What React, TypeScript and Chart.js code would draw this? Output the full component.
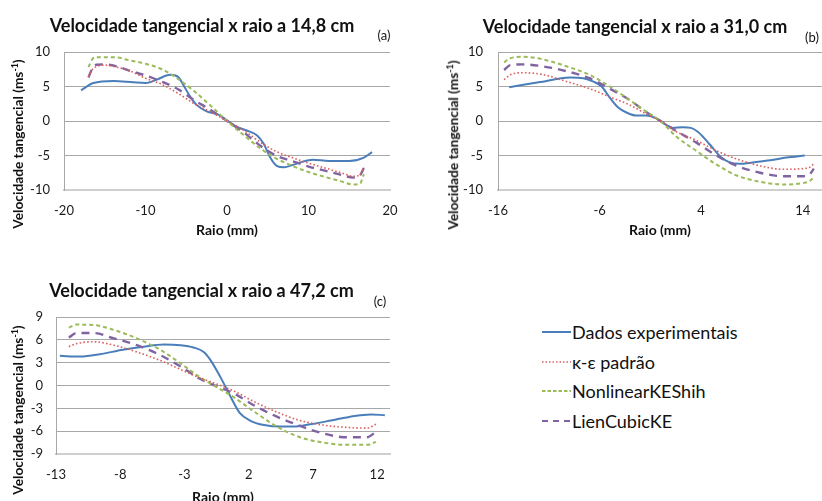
import React, { useEffect, useRef } from "react";
import { Chart, registerables } from "chart.js";
Chart.register(...registerables);

const FONT = "Lato, 'Open Sans', sans-serif";

// ---------- Panel (a) : 14,8 cm ----------
const aXTicks = [-20, -10, 0, 10, 20];
const aYTicks = [10, 5, 0, -5, -10];
const aExpX = [-17.9, -16.4, -13.9, -11.5, -10.0, -8.6, -7.0, -6.0, -5.2, -4.5, -3.7, -2.5, -1.0, 0, 1.3, 2.7, 3.7, 4.5, 5.3, 6.1, 7.0, 8.0, 9.0, 10.5, 12.5, 15.0, 16.8, 17.8];
const aExpY = [4.45, 5.5, 5.8, 5.6, 5.5, 6.0, 6.7, 6.4, 4.9, 3.5, 2.3, 1.4, 0.9, 0.1, -0.9, -1.5, -2.1, -3.3, -5.3, -6.5, -6.7, -6.4, -6.0, -5.6, -5.8, -5.8, -5.3, -4.5];
const aModelX = [-17, -16.5, -16, -15, -13.5, -12, -10, -8, -6, -4, -2, 0, 2, 4, 6, 8, 10, 12, 14, 15.5, 16.3, 16.8];
const aKeY = [6.4, 7.5, 7.9, 8.1, 7.8, 7.3, 6.2, 5.3, 4.0, 2.5, 1.3, 0, -1.3, -3.0, -4.4, -5.3, -6.1, -6.8, -7.5, -8.0, -7.8, -6.7];
const aShihY = [7.8, 9.0, 9.25, 9.25, 9.2, 8.8, 8.3, 7.5, 6.1, 4.3, 2.2, 0, -2.0, -3.9, -5.4, -6.5, -7.4, -8.1, -8.75, -9.2, -9.1, -7.7];
const aLienY = [6.3, 7.7, 8.15, 8.2, 7.9, 7.3, 6.6, 5.7, 4.6, 3.0, 1.6, 0, -1.6, -3.5, -5.0, -5.8, -6.6, -7.2, -7.8, -8.2, -7.9, -6.8];

// ---------- Panel (b) : 31,0 cm ----------
const bXTicks = [-16, -6, 4, 14];
const bYTicks = [10, 5, 0, -5, -10];
const bExpX = [-14.9, -12, -8.9, -7.6, -6.6, -5.8, -5.0, -4.2, -3.3, -2.4, -1.4, -0.6, 0, 0.6, 1.2, 2.2, 3.0, 3.7, 4.5, 5.2, 6.0, 6.8, 7.8, 9.1, 10.8, 12.4, 14.2];
const bExpY = [4.9, 5.6, 6.3, 6.2, 5.7, 5.0, 3.4, 2.0, 1.2, 0.8, 0.8, 0.5, 0, -0.6, -1.0, -0.9, -1.0, -1.6, -2.8, -4.0, -5.3, -6.0, -6.2, -6.0, -5.7, -5.3, -5.0];
const bModelX = [-15.4, -14.8, -13.5, -11.5, -9.2, -7.0, -5.0, -3.0, -1.5, 0, 1.5, 3.5, 5.5, 7.5, 9.8, 12.1, 14.0, 14.7, 15.1];
const bKeY = [6.0, 6.7, 7.0, 6.7, 5.7, 4.7, 3.5, 2.3, 1.1, 0, -1.5, -2.8, -4.3, -5.5, -6.5, -7.0, -6.9, -6.7, -6.2];
const bShihY = [8.5, 9.1, 9.3, 8.9, 7.9, 6.7, 5.0, 3.0, 1.45, 0, -2.2, -4.3, -6.3, -7.9, -8.8, -9.2, -9.0, -8.7, -8.1];
const bLienY = [7.4, 8.1, 8.2, 7.9, 7.2, 6.2, 4.7, 3.0, 1.4, 0, -1.4, -3.1, -5.0, -6.5, -7.5, -8.0, -8.0, -7.7, -6.9];

// ---------- Panel (c) : 47,2 cm ----------
const cXTicks = [-13, -8, -3, 2, 7, 12];
const cYTicks = [9, 6, 3, 0, -3, -6, -9];
const cExpX = [-12.7, -11.1, -9.6, -7.8, -6.2, -4.6, -3.3, -2.3, -1.5, -1.0, -0.2, 0.6, 1.3, 2.1, 3.2, 4.5, 5.5, 6.8, 8.4, 9.9, 11.5, 12.6];
const cExpY = [3.9, 3.8, 4.1, 4.7, 5.1, 5.4, 5.3, 5.0, 4.4, 3.4, 1.1, -1.5, -3.6, -4.6, -5.2, -5.4, -5.4, -5.1, -4.6, -4.1, -3.8, -3.9];
const cModelX = [-12.0, -11.4, -10.1, -8.5, -6.7, -4.9, -3.3, -1.8, -0.5, 0.8, 2.4, 4.2, 6.0, 7.8, 9.6, 11.2, 11.9];
const cKeY = [5.1, 5.5, 5.75, 5.3, 4.4, 3.3, 2.1, 1.0, 0.2, -0.7, -2.1, -3.5, -4.6, -5.2, -5.5, -5.6, -5.1];
const cShihY = [7.6, 8.0, 7.95, 7.3, 6.2, 4.7, 2.9, 1.1, -0.2, -1.5, -3.4, -5.4, -6.8, -7.5, -7.8, -7.8, -7.4];
const cLienY = [6.3, 6.9, 6.9, 6.2, 5.3, 4.0, 2.5, 0.9, -0.1, -1.0, -2.6, -4.1, -5.3, -6.3, -6.8, -6.8, -6.1];

const seriesNames = ["Dados experimentais", "κ-ε padrão", "NonlinearKEShih", "LienCubicKE"];
const BLUE = "#4A7EBB";
const RED = "#D9605E";
const GREEN = "#9BBB59";
const PURPLE = "#8064A2";

const zip = (xs: number[], ys: number[]) => xs.map((x, i) => ({ x, y: ys[i] }));

type PanelProps = {
  left: number; top: number; width: number; height: number;
  pad: { top: number; right: number; left: number; bottom: number };
  yW: number; xH: number; yPad: number;
  xMin: number; xMax: number; xTicks: number[];
  yMin: number; yMax: number; yTicks: number[];
  exp: [number[], number[]]; modelX: number[]; ke: number[]; shih: number[]; lien: number[];
};

function Panel(p: PanelProps) {
  const ref = useRef<HTMLCanvasElement>(null);
  useEffect(() => {
    if (!ref.current) return;
    const common = { showLine: true, pointRadius: 0, fill: false, cubicInterpolationMode: "monotone" as const };
    const chart = new Chart(ref.current, {
      type: "scatter",
      data: {
        datasets: [
          { ...common, label: seriesNames[1], data: zip(p.modelX, p.ke), borderColor: RED, borderWidth: 1.6, borderDash: [1.6, 2.2] },
          { ...common, label: seriesNames[2], data: zip(p.modelX, p.shih), borderColor: GREEN, borderWidth: 2, borderDash: [4, 3] },
          { ...common, label: seriesNames[3], data: zip(p.modelX, p.lien), borderColor: PURPLE, borderWidth: 2.4, borderDash: [8, 6] },
          { ...common, label: seriesNames[0], data: zip(p.exp[0], p.exp[1]), borderColor: BLUE, borderWidth: 2 },
        ],
      },
      options: {
        animation: false,
        responsive: false,
        events: [],
        layout: { padding: p.pad },
        plugins: { legend: { display: false }, tooltip: { enabled: false }, title: { display: false } },
        scales: {
          x: {
            type: "linear",
            min: p.xMin,
            max: p.xMax,
            afterBuildTicks: (s: any) => { s.ticks = p.xTicks.map((v) => ({ value: v })); },
            afterFit: (s: any) => { s.height = p.xH; },
            grid: { display: false, drawTicks: false },
            border: { display: true, color: "#cfcfcf", width: 2 },
            ticks: { font: { family: FONT, size: 13 }, color: "#1a1a1a", padding: 13, maxRotation: 0, autoSkip: false },
          },
          y: {
            type: "linear",
            min: p.yMin,
            max: p.yMax,
            afterBuildTicks: (s: any) => { s.ticks = p.yTicks.map((v) => ({ value: v })); },
            afterFit: (s: any) => { s.width = p.yW; },
            grid: {
              drawTicks: false,
              color: (ctx: any) => (ctx.tick && ctx.tick.value === p.yMin ? "rgba(0,0,0,0)" : "#a8a8a8"),
            },
            border: { display: true, color: "#a8a8a8", width: 1 },
            ticks: { font: { family: FONT, size: 13 }, color: "#1a1a1a", padding: p.yPad },
          },
        },
      },
    } as any);
    return () => chart.destroy();
  }, []);
  return (
    <canvas
      ref={ref}
      width={p.width}
      height={p.height}
      style={{ position: "absolute", left: p.left, top: p.top, width: p.width, height: p.height }}
    />
  );
}

function Txt(props: { x: number; y: number; size: number; bold?: boolean; rotate?: boolean; children: any }) {
  return (
    <div
      style={{
        position: "absolute",
        left: props.x,
        top: props.y,
        transform: `translate(-50%, -50%)${props.rotate ? " rotate(-90deg)" : ""}`,
        fontFamily: FONT,
        fontSize: props.size,
        fontWeight: props.bold ? 700 : 400,
        color: "#111",
        whiteSpace: "nowrap",
        lineHeight: 1,
      }}
    >
      {props.children}
    </div>
  );
}

const YTitle = () => (
  <>
    Velocidade tangencial (ms<span style={{ fontSize: "0.65em", verticalAlign: "0.55em" }}>-1</span>)
  </>
);

function LegendRow(props: { y: number; color: string; dash: string; width: number; label: string }) {
  return (
    <>
      <svg style={{ position: "absolute", left: 542, top: props.y - 3 }} width={29} height={6}>
        <line x1={0} y1={3} x2={29} y2={3} stroke={props.color} strokeWidth={props.width} strokeDasharray={props.dash} />
      </svg>
      <div
        style={{
          position: "absolute",
          left: 572,
          top: props.y,
          transform: "translateY(-50%)",
          fontFamily: FONT,
          fontSize: 18,
          color: "#111",
          whiteSpace: "nowrap",
          lineHeight: 1,
        }}
      >
        {props.label}
      </div>
    </>
  );
}

export default function App() {
  return (
    <div style={{ position: "absolute", left: 0, top: 0, width: 822, height: 501, overflow: "hidden", background: "#fff" }}>
      <Panel
        left={0} top={0} width={415} height={237}
        pad={{ top: 52, right: 25, left: 0, bottom: 0 }} yW={64} xH={47} yPad={14}
        xMin={-20} xMax={20} xTicks={aXTicks} yMin={-10} yMax={10} yTicks={aYTicks}
        exp={[aExpX, aExpY]} modelX={aModelX} ke={aKeY} shih={aShihY} lien={aLienY}
      />
      <Panel
        left={435} top={0} width={395} height={237}
        pad={{ top: 52, right: 7, left: 0, bottom: 0 }} yW={63} xH={47} yPad={15}
        xMin={-16} xMax={16} xTicks={bXTicks} yMin={-10} yMax={10} yTicks={bYTicks}
        exp={[bExpX, bExpY]} modelX={bModelX} ke={bKeY} shih={bShihY} lien={bLienY}
      />
      <Panel
        left={0} top={265} width={415} height={239}
        pad={{ top: 52, right: 25, left: 0, bottom: 0 }} yW={56} xH={50} yPad={13}
        xMin={-13} xMax={13} xTicks={cXTicks} yMin={-9} yMax={9} yTicks={cYTicks}
        exp={[cExpX, cExpY]} modelX={cModelX} ke={cKeY} shih={cShihY} lien={cLienY}
      />

      <Txt x={202} y={25} size={18} bold>Velocidade tangencial x raio a 14,8 cm</Txt>
      <Txt x={635} y={26} size={18} bold>Velocidade tangencial x raio a 31,0 cm</Txt>
      <Txt x={201.5} y={290} size={18} bold>Velocidade tangencial x raio a 47,2 cm</Txt>

      <Txt x={384} y={35} size={13}>(a)</Txt>
      <Txt x={812} y={37} size={13}>(b)</Txt>
      <Txt x={380} y={301} size={13}>(c)</Txt>

      <Txt x={18} y={144} size={13.7} bold rotate><YTitle /></Txt>
      <Txt x={453} y={145} size={13.7} bold rotate><YTitle /></Txt>
      <Txt x={18} y={410} size={13.7} bold rotate><YTitle /></Txt>

      <Txt x={227} y={229.5} size={14} bold>Raio (mm)</Txt>
      <Txt x={660} y={230} size={14} bold>Raio (mm)</Txt>
      <Txt x={223} y={497} size={14} bold>Raio (mm)</Txt>

      <LegendRow y={332} color={BLUE} dash="" width={2} label={seriesNames[0]} />
      <LegendRow y={362} color={RED} dash="1.5 2" width={1.5} label={seriesNames[1]} />
      <LegendRow y={391} color={GREEN} dash="3.5 2" width={1.8} label={seriesNames[2]} />
      <LegendRow y={421} color={PURPLE} dash="6 5" width={2} label={seriesNames[3]} />
    </div>
  );
}
